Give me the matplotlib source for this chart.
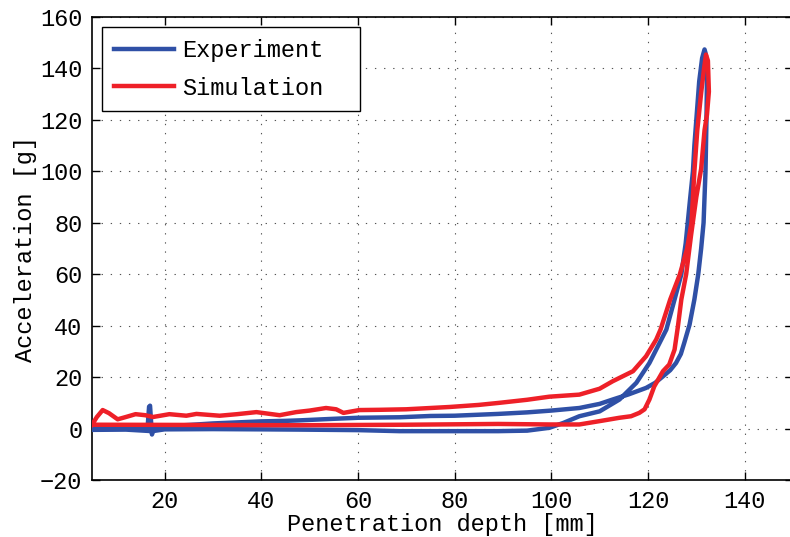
import matplotlib
matplotlib.use("Agg")
import matplotlib.pyplot as plt

plt.rcParams['font.family'] = ['Liberation Mono', 'DejaVu Sans']
plt.rcParams['font.size'] = 17

# experiment loop: loading branch, then unloading back to start
exp_depth = [5, 8, 12, 16.5, 16.8, 17.0, 17.2, 17.4, 17.7, 20, 25, 30, 35, 40, 45, 48,
             55, 60, 68.6, 75, 80, 89, 95, 100, 105.8, 110, 112.7, 116, 119.6, 121.5,
             123.1, 124.6, 125.8, 126.8, 127.5, 128.6, 129.6, 130.4, 131.0, 131.5,
             131.9, 132.1, 132.2, 132.1, 131.9, 131.7, 131.2, 130.6, 130.0, 129.6,
             129.3, 128.7, 127.8, 126.9, 125.5, 123.8, 122.4, 120.3, 117.6, 114.1,
             110, 105.8, 102.5, 99.6, 95, 89, 80, 68.6, 60, 48, 40, 30, 20, 17.5, 12, 5]
exp_accel = [0.3, 0.2, 0.5, 0.5, 8.5, 8.9, 3, -2.3, 0.3, 0.9, 1.4, 2.0, 2.4, 2.8, 3.0, 3.2,
             3.8, 4.2, 4.4, 4.9, 5.0, 5.7, 6.3, 7.0, 8.0, 9.6, 11.3, 13.3, 15.8, 17.8,
             20.3, 22.7, 25.5, 29, 33.3, 40.4, 50.2, 60, 70, 80,
             100, 120, 135, 142, 146, 147.4, 144, 135, 120, 110,
             100, 89, 72, 60, 50.2, 38.5, 33.3, 25.5, 17.8, 11.3,
             6.7, 4.8, 2.2, 0.3, -0.8, -1.0, -1.0, -1.0, -0.6, -0.4, -0.3, -0.2, -0.3, -1.0, -0.4, -0.5]

# simulation loop
sim_depth = [5, 6, 7.2, 8.5, 10.3, 12, 14, 16, 17.6, 21, 24.5, 26.6, 31.4, 35, 39, 43.8,
             47.2, 50, 53.4, 55.5, 57, 60.3, 64.5, 70, 79, 85, 89.2, 95, 99.6, 105.8,
             110, 112.7, 116.9, 119.6, 121.7, 122.6, 124.6, 126.6, 128.1, 129, 129.6,
             130.2, 131, 131.6, 132, 132.4, 132.6, 132.2, 131.7, 131, 130, 128.9,
             127.9, 126.9, 126.2, 125.5, 124.4, 123.1, 121.3, 120.3, 119.3, 118.2,
             116.5, 114.1, 110, 105.8, 99.6, 89, 70, 48, 30, 5]
sim_accel = [1.5, 4.5, 7.2, 6, 3.6, 4.5, 5.6, 5.2, 4.5, 5.6, 5, 5.7, 5, 5.6, 6.4, 5.2,
             6.4, 7, 8, 7.5, 6.1, 7.2, 7.3, 7.5, 8.4, 9.2, 10, 11.2, 12.4, 13.2,
             15.5, 18.4, 22.3, 28.1, 34.6, 38.5, 50.2, 60, 70, 80, 100,
             116, 130.5, 140, 145.4, 143, 131, 122, 116, 101, 90, 75,
             60, 50.2, 39.8, 30.7, 24.9, 22.3, 16.4, 11.3, 7.5, 6.1,
             4.8, 4.2, 2.9, 1.6, 1.6, 1.8, 1.5, 1.3, 1.4, 1.5]

fig = plt.figure(figsize=(7.9, 5.37), dpi=100)
ax = fig.add_axes([0.1165, 0.1061, 0.8873, 0.8622])

ax.plot(exp_depth, exp_accel, color='#2f50a6', lw=3.2, label='Experiment', zorder=3)
ax.plot(sim_depth, sim_accel, color='#ee2028', lw=3.2, label='Simulation', zorder=4)

ax.set_xlim(5, 150)
ax.set_ylim(-20, 160)
ax.set_xticks(range(20, 141, 20))
ax.set_yticks(range(-20, 161, 20))
ax.tick_params(direction='in', length=6, width=1, top=True, right=True, pad=7)
ax.grid(True, color='#555555', lw=0.8, linestyle=(0, (1.2, 7)))
for s in ax.spines.values():
    s.set_linewidth(1.2)

ax.set_xlabel('Penetration depth [mm]', labelpad=0)
ax.set_ylabel('Acceleration [g]', labelpad=2)

leg = ax.legend(loc='upper left', bbox_to_anchor=(0.0143, 0.0, 0.368, 0.978),
                mode='expand', borderaxespad=0, fancybox=False, edgecolor='black',
                framealpha=1, handlelength=2.55, handletextpad=0.35,
                borderpad=0.5, labelspacing=0.62)
leg.get_frame().set_linewidth(1.0)

fig.savefig('out.png', dpi=100)
